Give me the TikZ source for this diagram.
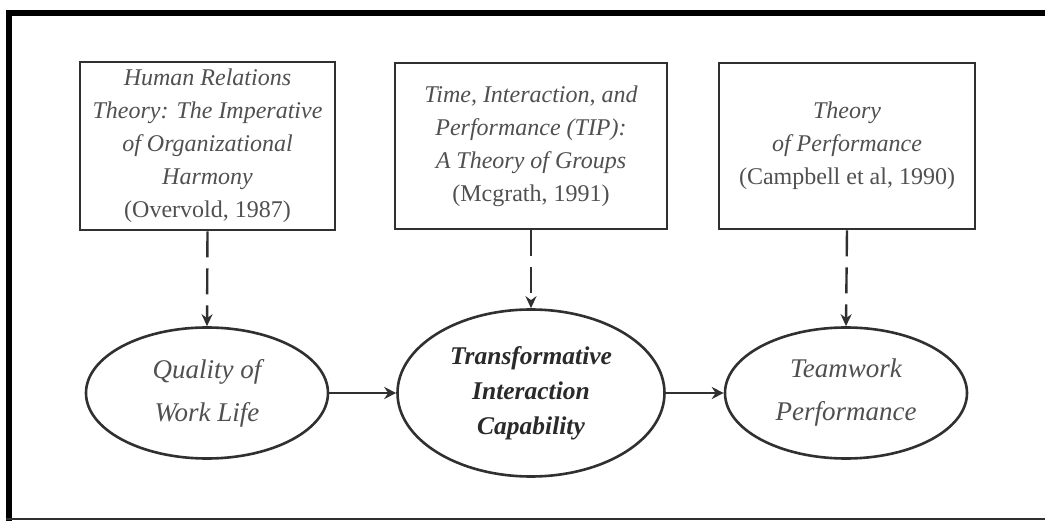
\documentclass[tikz,border=0pt]{standalone}
\usepackage{fontspec}
\setmainfont{Liberation Serif}
\usetikzlibrary{shapes.geometric,arrows.meta}
\definecolor{ink}{HTML}{303030}
\definecolor{txt}{HTML}{505050}
\definecolor{txtdark}{HTML}{2A2A2A}
\begin{document}
\begin{tikzpicture}[x=1pt,y=-1pt,
  theorybox/.style={draw=ink,line width=2.6pt,rectangle,inner sep=0pt,
    text=txt,align=center,font=\fontsize{24}{33}\selectfont},
  construct/.style={draw=ink,line width=2.6pt,ellipse,inner sep=0pt,
    text=txt,align=center,font=\fontsize{27}{43}\selectfont\itshape},
  influence/.style={draw=ink,line width=2.4pt,dash pattern=on 26pt off 11pt,
    -{Stealth[length=12pt,width=11pt]}},
  flow/.style={draw=ink,line width=2.8pt,-{Stealth[length=12pt,width=12pt]}}]
\useasboundingbox (0,0) rectangle (1045,521);
\fill[white] (0,0) rectangle (1045,521);

% outer frame (open on the right)
\draw[black,line width=6pt] (6,13) -- (1045,13);
\draw[black,line width=6pt] (9,10) -- (9,521);
\draw[ink,line width=2.2pt] (6,519) -- (1045,519);

% theories
\node[theorybox,minimum width=255pt,minimum height=168pt] (t1) at (207.5,146)
  {\itshape Human Relations\\ \itshape Theory: The Imperative\\ \itshape of Organizational\\ \itshape Harmony\\(Overvold, 1987)};
\node[theorybox,minimum width=272pt,minimum height=166pt] (t2) at (531,146)
  {\itshape Time, Interaction, and\\ \itshape Performance (TIP):\\ \itshape A Theory of Groups\\(Mcgrath, 1991)};
\node[theorybox,minimum width=256pt,minimum height=166pt] (t3) at (847,146)
  {\itshape Theory\\ \itshape of Performance\\(Campbell et al, 1990)};

% constructs
\node[construct,minimum width=242pt,minimum height=131pt] (c1) at (207,393)
  {Quality of\\Work Life};
\node[construct,minimum width=267pt,minimum height=167pt,text=txtdark,
  font=\fontsize{25.5}{35}\selectfont\bfseries\itshape] (c2) at (531,393)
  {Transformative\\Interaction\\Capability};
\node[construct,minimum width=242pt,minimum height=131pt] (c3) at (846,393)
  {Teamwork\\Performance};

% theory to construct
\draw[influence] (t1.south) -- (c1.north);
\draw[influence] (t2.south) -- (c2.north);
\draw[influence] (t3.south) -- (c3.north);

% construct chain
\draw[flow] (c1.east) -- (c2.west);
\draw[flow] (c2.east) -- (c3.west);
\end{tikzpicture}
\end{document}
